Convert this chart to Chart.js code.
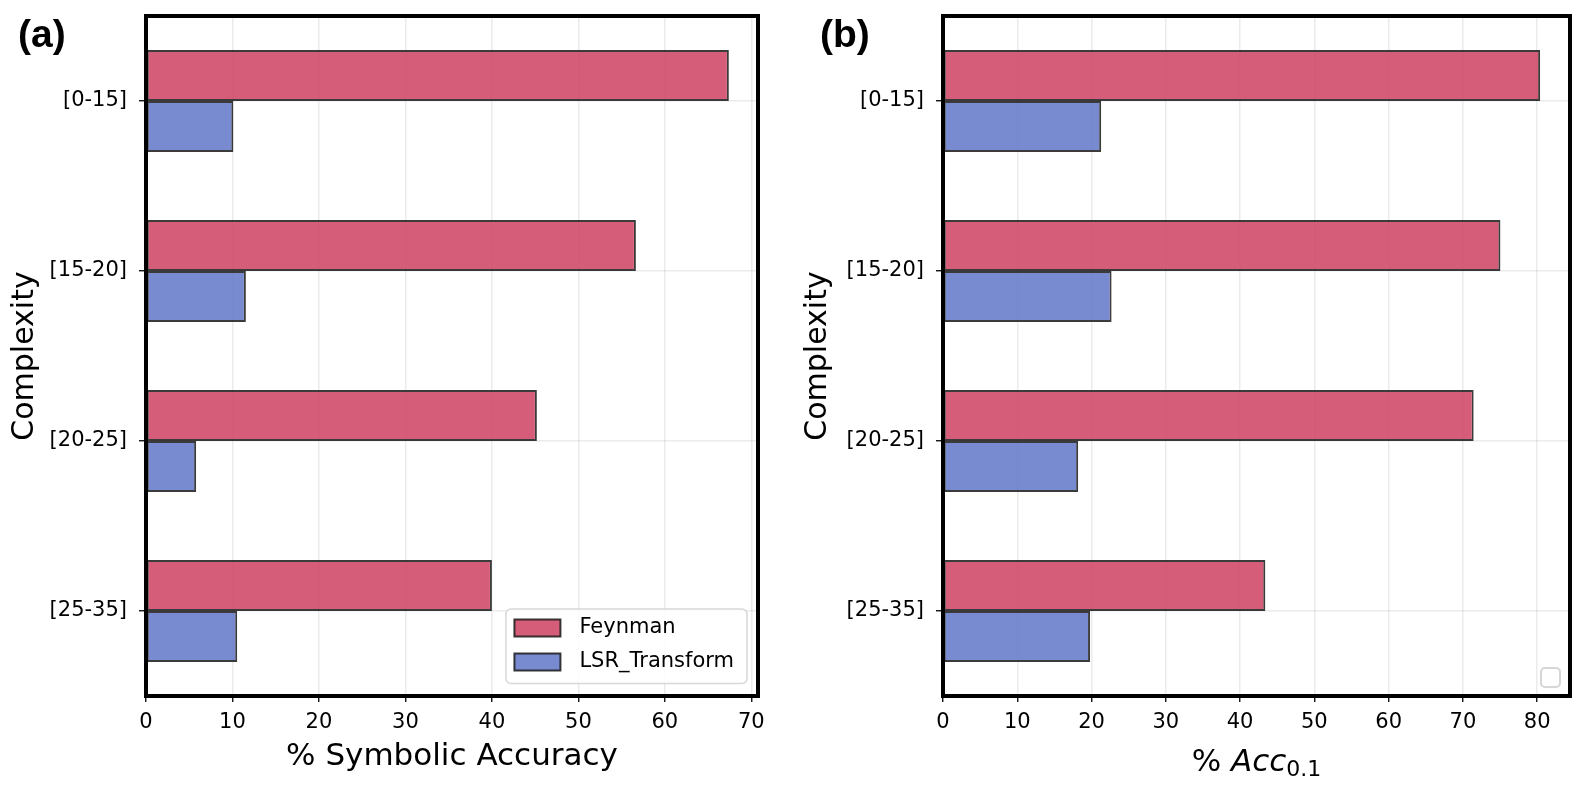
<!DOCTYPE html>
<html>
<head>
<meta charset="utf-8">
<script src="https://cdn.jsdelivr.net/npm/chart.js@4.4.1/dist/chart.umd.min.js"></script>
<style>
  html, body { margin:0; padding:0; background:#fff; }
  #wrap { position:relative; width:1578px; height:789px; }
  canvas { position:absolute; top:0; }
  #ca { left:0; }
  #cb { left:789px; }
</style>
</head>
<body>
<div id="wrap">
  <canvas id="ca" width="789" height="789"></canvas>
  <canvas id="cb" width="789" height="789"></canvas>
</div>
<script>
// ---- data ----
const categories = ['[0-15]', '[15-20]', '[20-25]', '[25-35]'];
const seriesNames = ['Feynman', 'LSR_Transform'];
const feynmanSymbolic = [67.4, 56.65, 45.2, 40.0];
const lsrSymbolic     = [10.1, 11.55, 5.8, 10.55];
const feynmanAcc      = [80.4, 75.05, 71.45, 43.4];
const lsrAcc          = [21.3, 22.7, 18.2, 19.8];
const xTickStep = 10;

// ---- styles ----
const RED = 'rgba(209,75,106,0.9)';
const BLUE = 'rgba(106,126,203,0.9)';
const EDGE = 'rgba(25,25,25,0.85)';
const GRID = 'rgba(0,0,0,0.08)';
const FONT = '"DejaVu Sans", sans-serif';

function roundRect(ctx, x, y, w, h, r) {
  ctx.beginPath();
  ctx.moveTo(x + r, y);
  ctx.lineTo(x + w - r, y);
  ctx.arcTo(x + w, y, x + w, y + r, r);
  ctx.lineTo(x + w, y + h - r);
  ctx.arcTo(x + w, y + h, x + w - r, y + h, r);
  ctx.lineTo(x + r, y + h);
  ctx.arcTo(x, y + h, x, y + h - r, r);
  ctx.lineTo(x, y + r);
  ctx.arcTo(x, y, x + r, y, r);
  ctx.closePath();
}

const decor = {
  id: 'decor',
  afterDraw(chart, args, o) {
    const ctx = chart.ctx;
    const a = chart.chartArea;
    ctx.save();
    // frame
    ctx.lineWidth = 4;
    ctx.strokeStyle = '#000';
    ctx.strokeRect(a.left, a.top, a.right - a.left, a.bottom - a.top);

    // panel label
    ctx.fillStyle = '#000';
    ctx.font = 'bold 39px "Liberation Sans", Arial, sans-serif';
    ctx.textAlign = 'left';
    ctx.textBaseline = 'alphabetic';
    ctx.fillText(o.label, o.labelX, 47);

    // y title
    ctx.save();
    ctx.translate(o.yTitleX, (a.top + a.bottom) / 2);
    ctx.rotate(-Math.PI / 2);
    ctx.font = '30px ' + FONT;
    ctx.textAlign = 'center';
    ctx.textBaseline = 'middle';
    ctx.fillText('Complexity', 0, 0);
    ctx.restore();

    // x title (pieces)
    let total = 0;
    o.xTitle.forEach(p => { ctx.font = p.font; p.w = ctx.measureText(p.text).width; total += p.w; });
    let x = (a.left + a.right) / 2 - total / 2;
    ctx.textAlign = 'left';
    o.xTitle.forEach(p => { ctx.font = p.font; ctx.fillText(p.text, x, o.xTitleY + (p.dy || 0)); x += p.w; });

    // legend
    if (o.fullLegend) {
      ctx.font = '21px ' + FONT;
      const tw = Math.max(...chart.data.datasets.map(d => ctx.measureText(d.label).width));
      const bw = 73.5 + tw + 13, bh = 74.5;
      const bx = a.right - 11 - bw, by = a.bottom - 12.5 - bh;
      roundRect(ctx, bx, by, bw, bh, 5);
      ctx.fillStyle = 'rgba(255,255,255,0.85)';
      ctx.fill();
      ctx.lineWidth = 1.5;
      ctx.strokeStyle = '#d8d8d8';
      ctx.stroke();
      chart.data.datasets.forEach((d, i) => {
        const cy = by + 19 + i * 34;
        ctx.fillStyle = d.backgroundColor;
        ctx.fillRect(bx + 8.5, cy - 8.5, 46, 17);
        ctx.lineWidth = 2;
        ctx.strokeStyle = d.borderColor;
        ctx.strokeRect(bx + 8.5, cy - 8.5, 46, 17);
        ctx.fillStyle = '#000';
        ctx.textBaseline = 'middle';
        ctx.fillText(d.label, bx + 73.5, cy);
      });
    } else {
      const s = 19;
      roundRect(ctx, a.right - 10 - s, a.bottom - 9 - s, s, s, 4);
      ctx.fillStyle = 'rgba(255,255,255,0.85)';
      ctx.fill();
      ctx.lineWidth = 2;
      ctx.strokeStyle = '#d6d6d6';
      ctx.stroke();
    }
    ctx.restore();
  }
};

function makeChart(id, fey, lsr, deco) {
  const xmax = Math.max(...fey, ...lsr) * 1.05;
  const ds = (label, data, color) => ({
    label, data,
    backgroundColor: color,
    borderColor: EDGE,
    borderWidth: 2,
    borderSkipped: false,
    categoryPercentage: 0.6,
    barPercentage: 1.0
  });
  return new Chart(document.getElementById(id), {
    type: 'bar',
    data: {
      labels: categories,
      datasets: [ds(seriesNames[0], fey, RED), ds(seriesNames[1], lsr, BLUE)]
    },
    options: {
      indexAxis: 'y',
      responsive: false,
      animation: false,
      layout: { padding: { top: 16, right: deco.padRight, left: 0, bottom: 0 } },
      scales: {
        x: {
          type: 'linear', min: 0, max: xmax,
          ticks: { stepSize: xTickStep, includeBounds: false, color: '#000',
                   font: { family: 'DejaVu Sans', size: 21 }, padding: 8, maxRotation: 0 },
          grid: { color: GRID, lineWidth: 1.5, tickColor: '#000', tickLength: 6, tickWidth: 1.3 },
          border: { display: false },
          afterFit: s => { s.height = 93; s.paddingLeft = 0; s.paddingRight = 0; }
        },
        y: {
          ticks: { color: '#000', font: { family: 'DejaVu Sans', size: 21 }, padding: 12 },
          grid: { color: GRID, lineWidth: 1.5, offset: false, tickColor: '#000', tickLength: 7, tickWidth: 1.3 },
          border: { display: false },
          afterFit: s => { s.width = deco.yWidth; s.paddingTop = 0; s.paddingBottom = 0; }
        }
      },
      plugins: {
        legend: { display: false },
        tooltip: { enabled: false },
        decor: deco
      }
    },
    plugins: [decor]
  });
}

makeChart('ca', feynmanSymbolic, lsrSymbolic, {
  padRight: 31, yWidth: 146, label: '(a)', labelX: 18, yTitleX: 25,
  xTitleY: 765, fullLegend: true,
  xTitle: [{ text: '% Symbolic Accuracy', font: '31px ' + FONT }]
});
makeChart('cb', feynmanAcc, lsrAcc, {
  padRight: 8, yWidth: 154, label: '(b)', labelX: 31, yTitleX: 29,
  xTitleY: 771, fullLegend: false,
  xTitle: [
    { text: '% ', font: '31px ' + FONT },
    { text: 'Acc', font: 'oblique 31px ' + FONT },
    { text: '0.1', font: '22px ' + FONT, dy: 5 }
  ]
});
</script>
</body>
</html>
